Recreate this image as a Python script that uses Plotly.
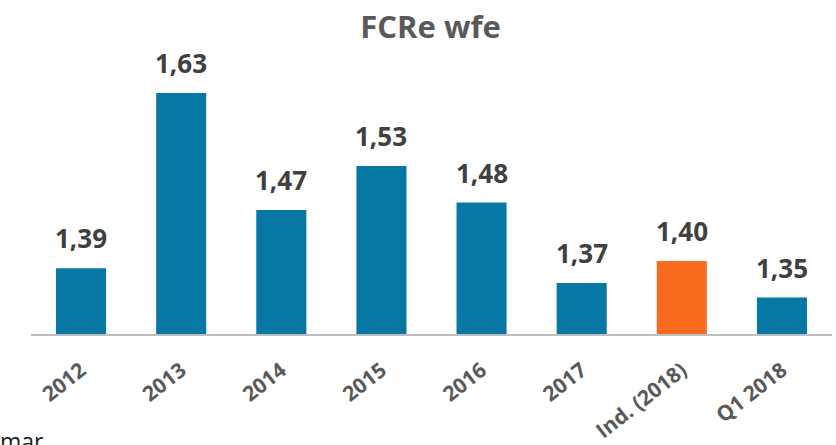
import plotly.graph_objects as go

categories = ['2012', '2013', '2014', '2015', '2016', '2017', 'Ind. (2018)', 'Q1 2018']
values = [1.39, 1.63, 1.47, 1.53, 1.48, 1.37, 1.40, 1.35]
labels = ['1,39', '1,63', '1,47', '1,53', '1,48', '1,37', '1,40', '1,35']
colors = ['#0777A3'] * 6 + ['#F96B1E'] + ['#0777A3']

fig = go.Figure(go.Bar(
    x=categories,
    y=values,
    marker=dict(color=colors, line=dict(width=0)),
))

# value labels above the bars (category index, numeric-looking names confuse the axis)
for i, (v, t) in enumerate(zip(values, labels)):
    fig.add_annotation(x=i, y=v, text=t, showarrow=False,
                       yanchor='bottom', yshift=10,
                       font=dict(family='Open Sans', size=26, color='#404040', weight='bold'))

fig.add_annotation(x=0, y=0, xref='paper', yref='paper', xanchor='left', yanchor='top',
                   xshift=-33, yshift=-89, text='mar', showarrow=False,
                   font=dict(family='Open Sans', size=23, color='#222222'))

fig.update_layout(
    width=836, height=445,
    margin=dict(l=31, r=4, t=42, b=111),
    paper_bgcolor='white', plot_bgcolor='white',
    bargap=0.5,
    showlegend=False,
    title=dict(text='FCRe wfe', x=0.515, xanchor='center', y=0.94, yanchor='middle',
               font=dict(family='Open Sans', size=31, color='#595959', weight='bold')),
    xaxis=dict(type='category', range=[-0.5, 7.5], showline=True, linecolor='#BFBFBF',
               linewidth=2, ticks='', tickangle=-38, ticklabelstandoff=14, automargin=False,
               tickfont=dict(family='Open Sans', size=21, color='#595959', weight='bold')),
    yaxis=dict(range=[1.3, 1.7], visible=False, showgrid=False),
)

fig.write_html("out.html", config={'displayModeBar': False},
               post_script="document.body.style.margin='0';")
